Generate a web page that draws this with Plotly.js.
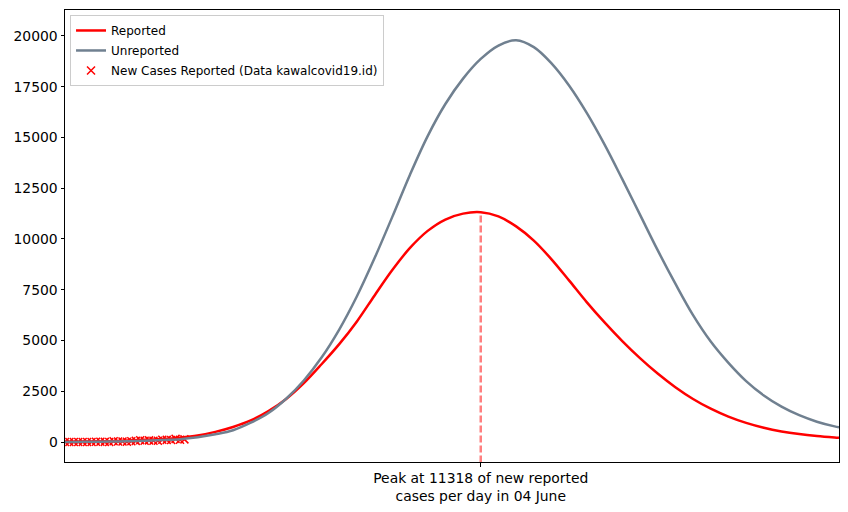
<!DOCTYPE html>
<html>
<head>
<meta charset="utf-8">
<script src="https://cdn.plot.ly/plotly-3.0.1.min.js"></script>
<style>html,body{margin:0;padding:0;background:#fff;}#chart{width:848px;height:512px;}</style>
</head>
<body>
<div id="chart"></div>
<script>
// Days since 02 March
const dataDays = [0,1,2,3,4,5,6,7,8,9,10,11,12,13,14,15,16,17,18,19,20,21,22,23,24,25,26,27];
const dataCases = [2,0,0,0,2,0,2,13,8,7,0,35,27,21,17,38,55,82,60,81,64,65,107,104,103,153,109,130];

const curveDays = [0,2,6,10,14,18,22,26,30,34,38,42,46,50,54,58,62,66,70,74,78,82,86,90,94,98,102,106,110,114,118,122,126,130,134,138,142,146,150,154,158,162,166,170,174,175];
const reportedVals = [10,13,23,40,68,110,150,215,320,500,740,1060,1520,2120,2900,3830,4820,5940,7220,8470,9560,10400,10960,11250,11318,11110,10620,9920,9000,7950,6880,5890,4970,4130,3370,2700,2120,1640,1250,940,700,520,390,295,225,210];
const unreportedVals = [5,6,10,20,35,60,100,140,235,380,580,950,1430,2130,3030,4160,5540,7180,9060,11090,13170,15070,16650,17900,18870,19530,19790,19450,18650,17550,16200,14650,12950,11200,9450,7800,6250,4950,3900,3000,2290,1740,1320,1000,770,730];

const peakDay = 94;
const peakValue = 11318;
const peakLabel = "Peak at 11318 of new reported<br>cases per day in 04 June";
const yTicks = [0,2500,5000,7500,10000,12500,15000,17500,20000];

const traces = [
  {x: dataDays, y: dataCases, mode: 'markers', type: 'scatter', name: 'New Cases Reported (Data kawalcovid19.id)',
   marker: {symbol: 'x-thin-open', size: 8, color: '#ff0000', line: {color: '#ff0000', width: 1.5}},
   legendrank: 3, legendgroup: 'c'},
  {x: curveDays, y: reportedVals, mode: 'lines', type: 'scatter', name: 'Reported',
   line: {color: '#ff0000', width: 2.5, shape: 'spline', smoothing: 1}, legendrank: 1, legendgroup: 'a'},
  {x: curveDays, y: unreportedVals, mode: 'lines', type: 'scatter', name: 'Unreported',
   line: {color: '#708090', width: 2.5, shape: 'spline', smoothing: 1}, legendrank: 2, legendgroup: 'b'},
  {x: [peakDay, peakDay], y: [-1500, peakValue - 150], mode: 'lines', type: 'scatter', showlegend: false,
   line: {color: 'rgba(255,0,0,0.5)', width: 2.5, dash: '7px,3px'}, hoverinfo: 'skip'}
];

const layout = {
  width: 848, height: 512,
  margin: {l: 65, r: 9, t: 10, b: 50},
  paper_bgcolor: '#fff', plot_bgcolor: '#fff',
  font: {family: 'DejaVu Sans', size: 13.9, color: '#000'},
  showlegend: true,
  legend: {x: 0.0065, y: 0.989, xanchor: 'left', yanchor: 'top',
    bgcolor: 'rgba(255,255,255,0.8)', bordercolor: '#cccccc', borderwidth: 1,
    font: {family: 'DejaVu Sans', size: 12, color: '#000'}, traceorder: 'grouped', tracegroupgap: 1},
  xaxis: {range: [0, 175], showgrid: false, zeroline: false, showline: true, mirror: true,
    linecolor: '#000', linewidth: 1, ticks: 'outside', ticklen: 3.5, tickcolor: '#000',
    tickvals: [peakDay], ticktext: [peakLabel], tickfont: {size: 13.9}},
  yaxis: {range: [-985, 21280], showgrid: false, zeroline: false, showline: true, mirror: true,
    linecolor: '#000', linewidth: 1, ticks: 'outside', ticklen: 3.5, tickcolor: '#000',
    tickvals: yTicks, ticktext: yTicks.map(String), tickfont: {size: 13.9}}
};

Plotly.newPlot('chart', traces, layout, {staticPlot: true, displayModeBar: false});
</script>
</body>
</html>
